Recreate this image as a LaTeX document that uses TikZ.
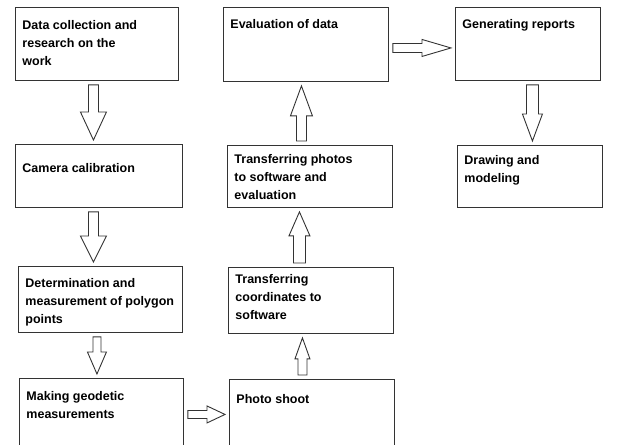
\documentclass[tikz,border=0pt]{standalone}
\usepackage{fontspec}
\setmainfont{Liberation Sans}
\usetikzlibrary{calc, positioning}

% text of a box: width, height, first baseline, lines
\newcommand{\boxtxt}[4]{\parbox[t][#2pt][t]{#1pt}{\raggedright\leftskip=7pt\rule{0pt}{#3pt}#4}}

\tikzset{
  step box/.style={draw=black!80, line width=0.9pt, anchor=north west, inner sep=0pt,
    font=\fontsize{12.5}{18}\bfseries\selectfont},
  hollow/.style n args={3}{draw=black!80, line width=0.9pt, line join=miter,
    to path={let \p1=(\tikztostart), \p2=(\tikztotarget),
      \n1={atan2(\y2-\y1,\x2-\x1)}, \n2={veclen(\x2-\x1,\y2-\y1)} in
      {[shift={(\p1)}, rotate=\n1]
        (4,-#1) -- ({\n2-4-#3},-#1) -- ({\n2-4-#3},-#2) -- ({\n2-4},0)
        -- ({\n2-4-#3},#2) -- ({\n2-4-#3},#1) -- (4,#1) -- cycle}}}
}

\begin{document}
\begin{tikzpicture}[x=1pt, y=-1pt]
\useasboundingbox (0,0) rectangle (625,445);
\clip (0,0) rectangle (625,445);

% first column
\node[step box] (collect) at (15,7) {\boxtxt{163}{73}{22}{Data collection and\\research on the\\work}};
\node[step box] (calib) at (15,144) {\boxtxt{167}{63}{28}{Camera calibration}};
\node[step box] (determ) at (18,266) {\boxtxt{164}{66}{21}{Determination and\\measurement of polygon\\points}};
\node[step box] (geodet) at (19,378) {\boxtxt{164}{72}{22}{Making geodetic\\measurements}};

% second column
\node[step box] (evaldata) at (223,7) {\boxtxt{165}{74}{21}{Evaluation of data}};
\node[step box] (transphotos) at (227,145) {\boxtxt{165}{62}{18}{Transferring photos\\to software and\\evaluation}};
\node[step box] (transcoords) at (228,267) {\boxtxt{165}{66}{16}{Transferring\\coordinates to\\software}};
\node[step box] (photo) at (229,379) {\boxtxt{165}{72}{24}{Photo shoot}};

% third column
\node[step box] (reports) at (455,7) {\boxtxt{145}{73}{21}{Generating reports}};
\node[step box] (drawing) at (457,145) {\boxtxt{145}{62}{19}{Drawing and\\modeling}};

% block arrows
\draw[hollow={5}{13}{28}] ([xshift=-3.5pt]collect.south) to ([xshift=-3.5pt]collect.south |- calib.north);
\draw[hollow={5}{13}{26}] ([xshift=-5.5pt]calib.south) to ([xshift=-5.5pt]calib.south |- determ.north);
\draw[hollow={4}{9.5}{22}] ([xshift=-3.5pt]determ.south) to ([xshift=-3.5pt]determ.south |- geodet.north);
\draw[hollow={4}{8.5}{18}] (geodet.east) to (geodet.east -| photo.west);
\draw[hollow={4.5}{7.5}{21}] ([xshift=-9.5pt]photo.north) to ([xshift=-9.5pt]photo.north |- transcoords.south);
\draw[hollow={6}{10.5}{24}] ([xshift=-11.5pt]transcoords.north) to ([xshift=-11.5pt]transcoords.north |- transphotos.south);
\draw[hollow={5}{11}{30}] ([xshift=-8.5pt]transphotos.north) to ([xshift=-8.5pt]transphotos.north |- evaldata.south);
\draw[hollow={4.5}{8.5}{29}] ([yshift=-3.5pt]evaldata.east) to ([yshift=-3.5pt]evaldata.east -| reports.west);
\draw[hollow={6}{10}{27}] ([xshift=4.5pt]reports.south) to ([xshift=4.5pt]reports.south |- drawing.north);

\end{tikzpicture}
\end{document}
